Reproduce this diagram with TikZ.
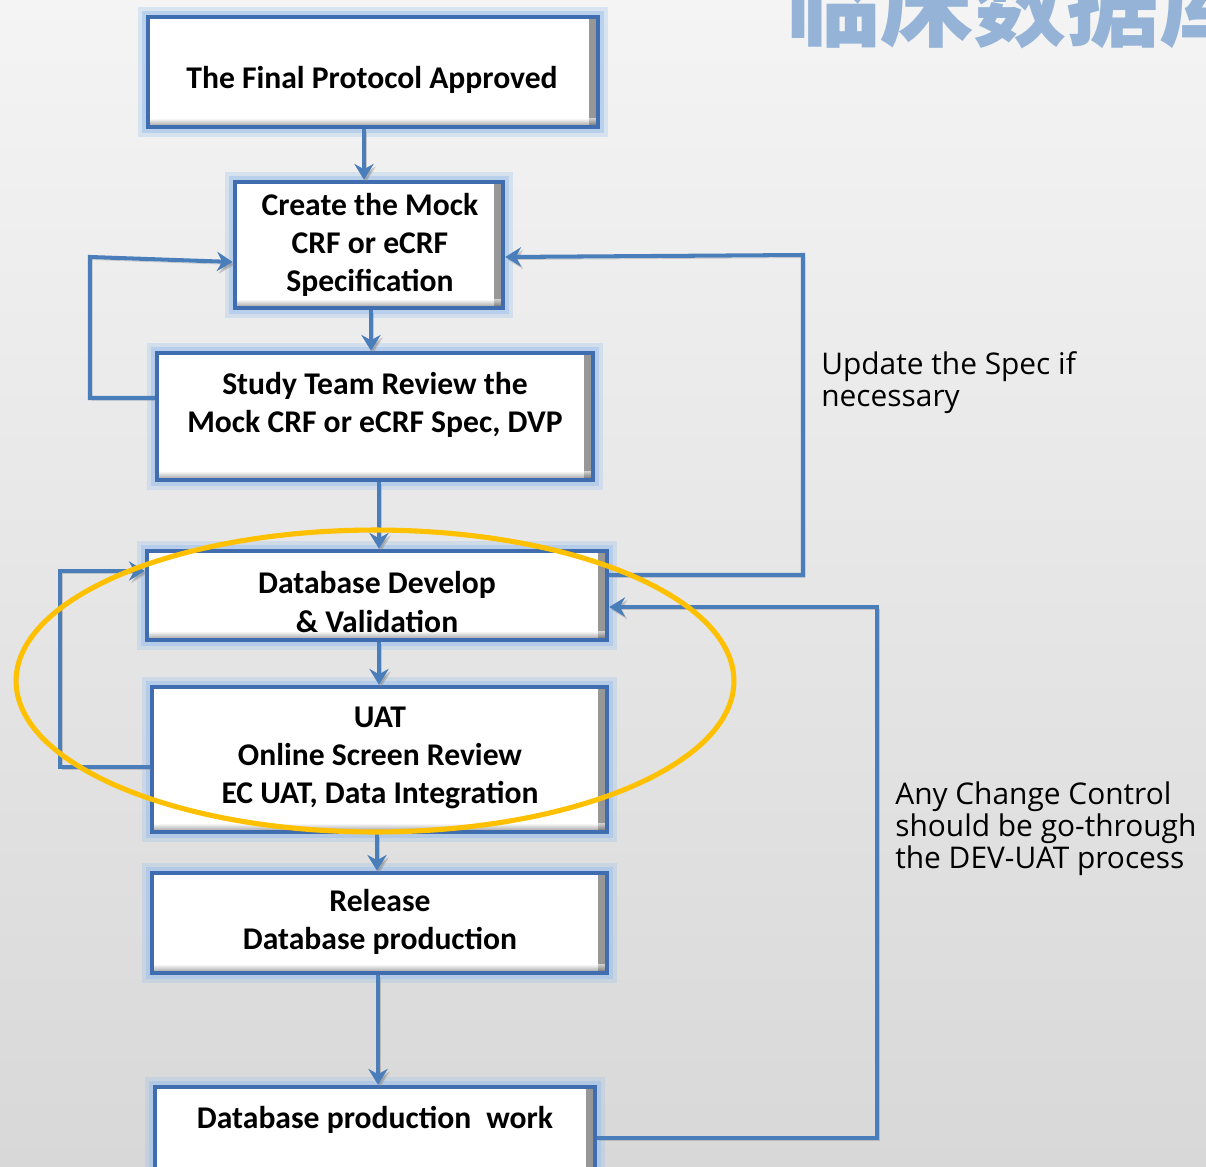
\documentclass[tikz,border=0pt]{standalone}
\usepackage{fontspec}
\setmainfont{Carlito}
\newfontfamily\lblfont{Open Sans}
\newfontfamily\cjkfont{Noto Sans CJK SC}
\usetikzlibrary{arrows.meta}
\definecolor{bgtop}{HTML}{F4F4F4}
\definecolor{bgbot}{HTML}{D8D8D8}
\definecolor{lineblue}{HTML}{4A7EBB}
\definecolor{boxblue}{HTML}{3F6DB0}
\definecolor{glowblue}{HTML}{9CC0EC}
\definecolor{ringyellow}{HTML}{FFC000}
\definecolor{titleblue}{HTML}{95B3D7}
\begin{document}
\begin{tikzpicture}[x=0.02cm,y=-0.02cm,
  stepbox/.style={draw=boxblue, line width=2.6pt, fill=white, inner sep=0pt,
     preaction={draw=glowblue, line width=11pt, opacity=0.3},
     preaction={draw=glowblue, line width=7pt, opacity=0.5},
     path picture={
       \shade[left color=white, right color=black!75, opacity=0.55]
         ([xshift=-5pt]path picture bounding box.north east) rectangle (path picture bounding box.south east);
       \shade[top color=white, bottom color=black!75, opacity=0.55]
         ([yshift=5pt]path picture bounding box.south west) rectangle (path picture bounding box.south east);
     }},
  txt/.style={font=\bfseries\fontsize{18}{21.8}\selectfont, align=center, inner sep=0pt},
  lbl/.style={font=\lblfont\fontsize{17}{18.1}\selectfont, align=left, inner sep=0pt, anchor=west},
  conn/.style={draw=lineblue, line width=2.3pt, -{Stealth[length=9pt,width=11pt,inset=3pt]},
     preaction={draw=black!50, opacity=0.35, transform canvas={shift={(1.2pt,-1.5pt)}}}},
  ring/.style={draw=ringyellow, line width=2.9pt}
]
\useasboundingbox (0,0) rectangle (1206,1166);
\shade[top color=bgtop, bottom color=bgbot] (0,0) rectangle (1206,1166);

% title (cut off at the page edge, as in the reference)
\node[anchor=base west, inner sep=0pt, text=titleblue, font=\cjkfont\bfseries\fontsize{53}{56}\selectfont] (title) at (787,40) {临床数据库};

% boxes
\node[stepbox, minimum width=9.0cm,  minimum height=2.2cm]  (b1) at (373,72) {};
\node[stepbox, minimum width=5.36cm, minimum height=2.52cm] (b2) at (369,245) {};
\node[stepbox, minimum width=8.72cm, minimum height=2.54cm] (b3) at (375,416.5) {};
\node[stepbox, minimum width=9.2cm,  minimum height=1.78cm] (b4) at (377,595.5) {};
\node[stepbox, minimum width=9.1cm,  minimum height=2.9cm]  (b5) at (379.5,759.5) {};
\node[stepbox, minimum width=9.1cm,  minimum height=2.0cm]  (b6) at (379.5,923) {};
\node[stepbox, minimum width=8.8cm,  minimum height=1.86cm] (b7) at (375,1133.5) {};

% texts
\node[txt] (t1) at (372,80) {The Final Protocol Approved};
\node[txt] (t2) at (370,245) {Create the Mock\\CRF or eCRF\\Specification};
\node[txt] (t3) at (375,405) {Study Team Review the\\Mock CRF or eCRF Spec, DVP};
\node[txt] (t4) at (377,602) {Database Develop\\\& Validation};
\node[txt] (t5) at (380,758) {UAT\\Online Screen Review\\EC UAT, Data Integration};
\node[txt] (t6) at (380,922) {Release\\Database production};
\node[txt] (t7) at (375,1120) {Database production\hspace{0.25em} work};

\node[lbl] (u1) at (821,383) {Update the Spec if\\necessary};
\node[lbl] (u2) at (895,829) {Any Change Control\\should be go-through\\the DEV-UAT process};

% helper coordinates
\coordinate (x12) at (364,0);
\coordinate (x23) at (371,0);
\coordinate (x34) at (379,0);
\coordinate (x45) at (379,0);
\coordinate (x56) at (377,0);
\coordinate (x67) at (378,0);
\coordinate (l1a) at (90,398);
\coordinate (l1b) at (90,257);
\coordinate (l1c) at (0,262);
\coordinate (r1a) at (803,575);
\coordinate (r1b) at (803,255);
\coordinate (r1c) at (0,257);
\coordinate (l2a) at (60,767);
\coordinate (l2b) at (60,571);
\coordinate (r2a) at (877,1138);
\coordinate (r2b) at (877,607);

% straight flow
\draw[conn] (b1.south -| x12) -- (b2.north -| x12);
\draw[conn] (b2.south -| x23) -- (b3.north -| x23);
\draw[conn] (b3.south -| x34) -- (b4.north -| x34);
\draw[conn] (b4.south -| x45) -- (b5.north -| x45);
\draw[conn] (b5.south -| x56) -- (b6.north -| x56);
\draw[conn] (b6.south -| x67) -- (b7.north -| x67);

% loops
\draw[conn] (b3.west |- l1a) -- (l1a) -- (l1b) -- (b2.west |- l1c);
\draw[conn] (b4.east |- r1a) -- (r1a) -- (r1b) -- (b2.east |- r1c);
\draw[conn] (b5.west |- l2a) -- (l2a) -- (l2b) -- (b4.west |- l2b);
\draw[conn] (b7.east |- r2a) -- (r2a) -- (r2b) -- (b4.east |- r2b);

% highlight ring
\draw[ring] (375,681) ellipse [x radius=7.18cm, y radius=3.02cm];
\end{tikzpicture}
\end{document}
